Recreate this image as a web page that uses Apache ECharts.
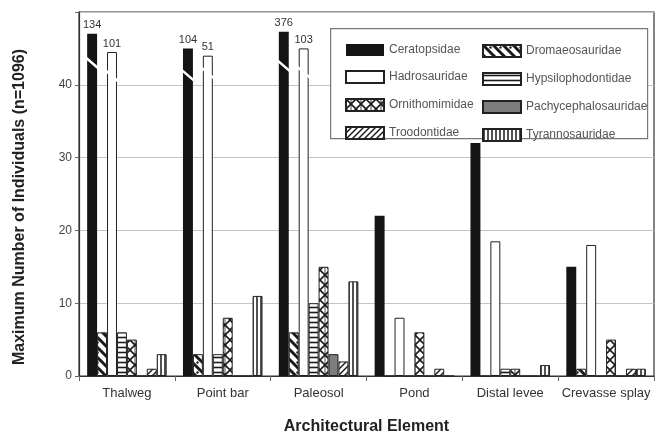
<!DOCTYPE html>
<html>
<head>
<meta charset="utf-8">
<script src="https://cdn.jsdelivr.net/npm/echarts@6/dist/echarts.min.js"></script>
<style>html,body{margin:0;padding:0;background:#fff}#c{width:657px;height:435px}</style>
</head>
<body>
<div id="c"></div>
<script>
// ---- data ----
const categories = ['Thalweg', 'Point bar', 'Paleosol', 'Pond', 'Distal levee', 'Crevasse splay'];
const seriesNames = ['Ceratopsidae', 'Dromaeosauridae', 'Hadrosauridae', 'Hypsilophodontidae',
                     'Ornithomimidae', 'Pachycephalosauridae', 'Troodontidae', 'Tyrannosauridae'];
// true counts
const ceratopsidae        = [134, 104, 376, 22, 32, 15];
const dromaeosauridae     = [6, 3, 6, 0, 0, 1];
const hadrosauridae       = [101, 51, 103, 8, 18.5, 18];
const hypsilophodontidae  = [6, 3, 10, 0, 1, 0];
const ornithomimidae      = [5, 8, 15, 6, 1, 5];
const pachycephalosauridae= [0, 0, 3, 0, 0, 0];
const troodontidae        = [1, 0, 2, 1, 0, 1];
const tyrannosauridae     = [3, 11, 13, 0, 1.5, 1];
// drawn heights of the broken (off-scale) bars
const ceratopsidaeShown   = [47, 45, 47.3, 22, 32, 15];
const hadrosauridaeShown  = [44.5, 44, 45, 8, 18.5, 18];
// where the break marks sit: [category index, value, bar slot]
const breakMarks = [[0, 43, 0], [0, 41.2, 2], [1, 41.3, 0], [1, 41.6, 2], [2, 42.6, 0], [2, 41.7, 2]];
const yTicks = [0, 10, 20, 30, 40];
const yMax = 50;

// ---- patterns ----
function pat(w, h, draw) {
  const c = document.createElement('canvas');
  c.width = w; c.height = h;
  const g = c.getContext('2d');
  g.fillStyle = '#fff'; g.fillRect(0, 0, w, h);
  g.strokeStyle = '#1a1a1a'; g.fillStyle = '#1a1a1a';
  draw(g, w, h);
  return { image: c, repeat: 'repeat' };
}
function line(g, x1, y1, x2, y2, lw) { g.lineWidth = lw; g.beginPath(); g.moveTo(x1, y1); g.lineTo(x2, y2); g.stroke(); }
const fills = {
  Ceratopsidae: '#141414',
  Dromaeosauridae: pat(10, 10, (g, w, h) => {
    line(g, -2, -2, 12, 12, 3); line(g, -12, -2, 2, 12, 3); line(g, 8, -2, 22, 12, 3);
    g.beginPath(); g.arc(7.5, 2.5, 1.2, 0, Math.PI * 2); g.fill();
  }),
  Hadrosauridae: '#ffffff',
  Hypsilophodontidae: pat(6, 5, (g) => { line(g, 0, 2.5, 6, 2.5, 1.6); }),
  Ornithomimidae: pat(10, 10, (g) => { line(g, 0, 0, 10, 10, 1.6); line(g, 10, 0, 0, 10, 1.6); line(g, 5, 0, 5, 10, 0.8); }),
  Pachycephalosauridae: '#7d7d7d',
  Troodontidae: pat(6, 6, (g) => { line(g, -1, 7, 7, -1, 1.4); line(g, -1, 1, 1, -1, 1.4); line(g, 5, 7, 7, 5, 1.4); }),
  Tyrannosauridae: pat(4, 4, (g) => { line(g, 1, 0, 1, 4, 1.5); })
};

const values = {
  Ceratopsidae: ceratopsidaeShown, Dromaeosauridae: dromaeosauridae, Hadrosauridae: hadrosauridaeShown,
  Hypsilophodontidae: hypsilophodontidae, Ornithomimidae: ornithomimidae, Pachycephalosauridae: pachycephalosauridae,
  Troodontidae: troodontidae, Tyrannosauridae: tyrannosauridae
};
const trueValues = { Ceratopsidae: ceratopsidae, Hadrosauridae: hadrosauridae };

const CAT_GAP = 0.17;
const barSeries = seriesNames.map(name => ({
  name: name,
  type: 'bar',
  barGap: '0%',
  barCategoryGap: (CAT_GAP * 100) + '%',
  data: values[name],
  itemStyle: { color: fills[name], borderColor: '#222', borderWidth: name === 'Ceratopsidae' ? 0 : 1 },
  label: trueValues[name] ? {
    show: true, position: 'top', distance: 3, fontSize: 11, color: '#333', fontFamily: 'Liberation Sans, Arial',
    formatter: p => (trueValues[name][p.dataIndex] > yMax ? String(trueValues[name][p.dataIndex]) : '')
  } : { show: false },
  emphasis: { disabled: true }
}));

const breakSeries = {
  type: 'custom',
  z: 5,
  silent: true,
  data: breakMarks,
  renderItem: function (params, api) {
    const band = api.size([1, 0])[0];
    const bw = band * (1 - CAT_GAP) / seriesNames.length;
    const c = api.coord([api.value(0), api.value(1)]);
    const slot = api.value(2);
    const x0 = c[0] - band * (1 - CAT_GAP) / 2 + slot * bw;
    const x1 = x0 + bw;
    return {
      type: 'line',
      shape: { x1: x0 - 2, y1: c[1] - 6, x2: x1 + 2, y2: c[1] + 6 },
      style: { stroke: '#fff', lineWidth: 2.5 }
    };
  }
};

const chart = echarts.init(document.getElementById('c'), null, { renderer: 'canvas' });
const legendCommon = {
  orient: 'vertical', top: 39, itemWidth: 38, itemHeight: 12, itemGap: 14, icon: 'rect',
  selectedMode: false,
  textStyle: { fontSize: 12, color: '#555', fontFamily: 'Liberation Sans, Arial' }
};
chart.setOption({
  animation: false,
  backgroundColor: '#fff',
  textStyle: { fontFamily: 'Liberation Sans, Arial' },
  grid: { left: 79, right: 3, top: 12, bottom: 59, outerBoundsMode: 'none', containLabel: false,
          show: true, borderColor: '#333', borderWidth: 1.2, backgroundColor: 'transparent' },
  graphic: [{
    type: 'rect', left: 330, top: 28, z: 3, silent: true,
    shape: { width: 317, height: 110 },
    style: { fill: '#fff', stroke: '#777', lineWidth: 1.2 }
  }],
  legend: [
    Object.assign({}, legendCommon, { left: 340, data: [seriesNames[0], seriesNames[2], seriesNames[4], seriesNames[6]] }),
    Object.assign({}, legendCommon, { left: 477, data: [seriesNames[1], seriesNames[3], seriesNames[5], seriesNames[7]] })
  ],
  xAxis: {
    type: 'category', data: categories,
    name: 'Architectural Element', nameLocation: 'middle', nameGap: 43,
    nameTextStyle: { fontSize: 16, fontWeight: 'bold', color: '#222' },
    axisLine: { lineStyle: { color: '#333', width: 1.2 } },
    axisTick: { show: true, alignWithLabel: false, length: 5, lineStyle: { color: '#666' } },
    axisLabel: { fontSize: 13, color: '#333', margin: 11, interval: 0 }
  },
  yAxis: {
    type: 'value', min: 0, max: yMax, interval: 10,
    name: 'Maximum Number of Individuals (n=1096)', nameLocation: 'middle', nameGap: 51,
    nameTextStyle: { fontSize: 16, fontWeight: 'bold', color: '#222', padding: [0, 26, 0, 0] },
    axisLine: { show: true, lineStyle: { color: '#333', width: 1.2 } },
    axisTick: { show: true, length: 4, lineStyle: { color: '#666' } },
    axisLabel: { fontSize: 12, color: '#444', margin: 7, formatter: v => (yTicks.indexOf(v) >= 0 ? String(v) : '') },
    splitLine: { show: true, lineStyle: { color: '#c4c4c4', width: 1 } }
  },
  series: barSeries.concat([breakSeries])
});
</script>
</body>
</html>
